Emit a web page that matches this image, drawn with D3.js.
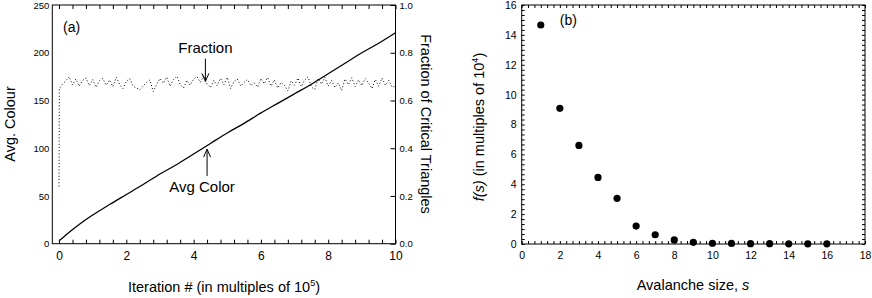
<!DOCTYPE html>
<html>
<head>
<meta charset="utf-8">
<script src="https://cdn.jsdelivr.net/npm/d3@7"></script>
<style>
  body { margin: 0; background: #fff; }
  svg { font-family: "Liberation Sans", Arial, sans-serif; }
  .domain { display: none; }
</style>
</head>
<body>
<svg id="chart" width="872" height="298"></svg>
<script>
// panel (a): average colour (left axis) and fraction of critical triangles (right axis)
var colorIter = [0, 0.25, 0.5, 0.75, 1, 1.5, 2, 2.5, 3, 3.5, 4, 4.5, 5, 5.5, 6, 6.5, 7, 7.5, 8, 8.5, 9, 9.5, 10];
var colorVal  = [3, 10.5, 17.5, 24, 30, 41, 51.5, 62, 73, 83, 94, 105, 116, 126, 137, 147, 157, 167, 178, 189, 200, 210, 221];

// fraction sampled every 0.1 (after the initial jump at 0)
var fracVal = [0.24, 0.65,
  0.668, 0.682, 0.700, 0.665, 0.690, 0.660, 0.684, 0.694, 0.662, 0.688,
  0.655, 0.683, 0.692, 0.664, 0.686, 0.658, 0.697, 0.668, 0.650, 0.680,
  0.692, 0.661, 0.652, 0.645, 0.660, 0.676, 0.686, 0.637, 0.668, 0.692,
  0.672, 0.698, 0.660, 0.688, 0.702, 0.668, 0.652, 0.684, 0.664, 0.690,
  0.700, 0.676, 0.705, 0.668, 0.654, 0.684, 0.662, 0.693, 0.666, 0.697,
  0.650, 0.680, 0.690, 0.660, 0.676, 0.688, 0.662, 0.674, 0.656, 0.692,
  0.670, 0.696, 0.660, 0.686, 0.652, 0.676, 0.664, 0.640, 0.682, 0.664,
  0.694, 0.658, 0.686, 0.699, 0.656, 0.646, 0.692, 0.668, 0.697, 0.660,
  0.684, 0.654, 0.674, 0.642, 0.690, 0.666, 0.695, 0.658, 0.686, 0.662,
  0.692, 0.674, 0.650, 0.688, 0.660, 0.694, 0.664, 0.684, 0.656, 0.660];
var fracIter = [0, 0.01].concat(d3.range(1, 101).map(i => i / 10));

// panel (b): avalanche size distribution
var sizes = [1, 2, 3, 4, 5, 6, 7, 8, 9, 10, 11, 12, 13, 14, 15, 16];
var freq  = [14.66, 9.08, 6.6, 4.46, 3.06, 1.2, 0.62, 0.27, 0.11, 0.05, 0.04, 0.02, 0.02, 0.01, 0.01, 0.01];

var svg = d3.select("#chart");

/* ---------- panel (a) ---------- */
var xA = d3.scaleLinear().domain([-0.2, 10]).range([52.3, 395.5]);
var yA = d3.scaleLinear().domain([0, 250]).range([243.7, 5]);
var yF = d3.scaleLinear().domain([0, 1]).range([243.7, 5]);

var isMajor = d => Math.abs(d / 2 - Math.round(d / 2)) < 1e-6;
var ticksA = d3.range(0, 10.001, 0.4);

svg.append("g")
  .attr("transform", "translate(0," + yA(0) + ")")
  .call(d3.axisBottom(xA).tickValues(ticksA).tickSizeInner(-4).tickSizeOuter(0).tickPadding(8)
    .tickFormat(d => isMajor(d) ? d3.format("d")(Math.round(d)) : ""))
  .call(g => g.selectAll("text").attr("font-size", 12).attr("fill", "#000"));

svg.append("g")
  .attr("transform", "translate(0," + yA(250) + ")")
  .call(d3.axisTop(xA).tickValues(ticksA).tickSizeInner(-4).tickSizeOuter(0).tickFormat(""));

svg.append("g")
  .attr("transform", "translate(" + xA(-0.2) + ",0)")
  .call(d3.axisLeft(yA).tickValues(d3.range(0, 251, 50)).tickSize(0).tickPadding(3))
  .call(g => g.selectAll("text").attr("font-size", 9.5).attr("fill", "#000"));

svg.append("g")
  .attr("transform", "translate(" + xA(10) + ",0)")
  .call(d3.axisRight(yF).tickValues(d3.range(0, 1.01, 0.2)).tickSizeInner(-5).tickSizeOuter(0).tickPadding(4)
    .tickFormat(d3.format(".1f")))
  .call(g => g.selectAll("text").attr("font-size", 9.5).attr("fill", "#000"));

svg.append("rect")
  .attr("x", xA(-0.2)).attr("y", yA(250))
  .attr("width", xA(10) - xA(-0.2)).attr("height", yA(0) - yA(250))
  .attr("fill", "none").attr("stroke", "#000").attr("stroke-width", 1);

svg.append("path")
  .datum(d3.zip(fracIter, fracVal))
  .attr("fill", "none").attr("stroke", "#000").attr("stroke-width", 1)
  .attr("stroke-dasharray", "1,2.2")
  .attr("d", d3.line().x(d => xA(d[0])).y(d => yF(d[1])));

svg.append("path")
  .datum(d3.zip(colorIter, colorVal))
  .attr("fill", "none").attr("stroke", "#000").attr("stroke-width", 1.3)
  .attr("d", d3.line().curve(d3.curveMonotoneX).x(d => xA(d[0])).y(d => yA(d[1])));

// annotations
function arrow(x, y0, y1) {
  var dir = y1 > y0 ? -1 : 1;
  svg.append("line").attr("x1", x).attr("x2", x).attr("y1", y0).attr("y2", y1)
    .attr("stroke", "#000").attr("stroke-width", 1);
  svg.append("path")
    .attr("d", "M" + (x - 3.5) + "," + (y1 + dir * 8) + "L" + x + "," + y1 + "L" + (x + 3.5) + "," + (y1 + dir * 8))
    .attr("fill", "none").attr("stroke", "#000").attr("stroke-width", 1);
}
svg.append("text").attr("x", xA(0.12)).attr("y", yA(222)).attr("font-size", 14).text("(a)");
svg.append("text").attr("x", xA(4.35)).attr("y", yF(0.799)).attr("font-size", 15)
  .attr("text-anchor", "middle").text("Fraction");
arrow(xA(4.35), yF(0.775), yF(0.68));
svg.append("text").attr("x", xA(4.25)).attr("y", yA(54.5)).attr("font-size", 15)
  .attr("text-anchor", "middle").text("Avg Color");
arrow(xA(4.4), yA(71), yA(99));

// axis titles
svg.append("text")
  .attr("transform", "translate(10," + 124 + ") rotate(-90)")
  .attr("text-anchor", "middle").attr("dy", "0.35em").attr("font-size", 14.5)
  .text("Avg. Colour");
svg.append("text")
  .attr("transform", "translate(426," + 124 + ") rotate(90)")
  .attr("text-anchor", "middle").attr("dy", "0.35em").attr("font-size", 14.5)
  .text("Fraction of Critical Triangles");
var tA = svg.append("text").attr("x", 224).attr("y", 291.5)
  .attr("text-anchor", "middle").attr("font-size", 14.5);
tA.append("tspan").text("Iteration # (in multiples of 10");
tA.append("tspan").attr("font-size", 9).attr("dy", -6).text("5");
tA.append("tspan").attr("dy", 6).text(")");

/* ---------- panel (b) ---------- */
var xB = d3.scaleLinear().domain([0, 18]).range([521.7, 865]);
var yB = d3.scaleLinear().domain([0, 16]).range([244, 5]);
var isMajB = d => Math.abs(d / 2 - Math.round(d / 2)) < 1e-6;
var ticksBx = d3.range(0, 18.001, 1 / 3);
var ticksBy = d3.range(0, 16.001, 1 / 3);

svg.append("g")
  .attr("transform", "translate(0," + yB(0) + ")")
  .call(d3.axisBottom(xB).tickValues(ticksBx).tickSizeInner(-3).tickSizeOuter(0).tickPadding(8)
    .tickFormat(d => isMajB(d) ? d3.format("d")(Math.round(d)) : ""))
  .call(g => g.selectAll("text").attr("font-size", 10.5).attr("fill", "#000"));
svg.append("g")
  .attr("transform", "translate(0," + yB(16) + ")")
  .call(d3.axisTop(xB).tickValues(ticksBx).tickSizeInner(-3).tickSizeOuter(0).tickFormat(""));
svg.append("g")
  .attr("transform", "translate(" + xB(0) + ",0)")
  .call(d3.axisLeft(yB).tickValues(ticksBy).tickSizeInner(-3).tickSizeOuter(0).tickPadding(5)
    .tickFormat(d => isMajB(d) ? d3.format("d")(Math.round(d)) : ""))
  .call(g => g.selectAll("text").attr("font-size", 10.5).attr("fill", "#000"));
svg.append("g")
  .attr("transform", "translate(" + xB(18) + ",0)")
  .call(d3.axisRight(yB).tickValues(ticksBy).tickSizeInner(-3).tickSizeOuter(0).tickFormat(""));

svg.append("rect")
  .attr("x", xB(0)).attr("y", yB(16))
  .attr("width", xB(18) - xB(0)).attr("height", yB(0) - yB(16))
  .attr("fill", "none").attr("stroke", "#000").attr("stroke-width", 1);

svg.append("g").selectAll("circle")
  .data(d3.zip(sizes, freq))
  .enter()
  .append("circle")
  .attr("cx", d => xB(d[0]))
  .attr("cy", d => yB(d[1]))
  .attr("r", 3.6)
  .attr("fill", "#000");

svg.append("text").attr("x", xB(2.0)).attr("y", yB(14.66)).attr("font-size", 14).text("(b)");

var tB = svg.append("text").attr("x", 693).attr("y", 290)
  .attr("text-anchor", "middle").attr("font-size", 14.5);
tB.append("tspan").text("Avalanche size, ");
tB.append("tspan").attr("font-style", "italic").text("s");

var tBy = svg.append("text")
  .attr("transform", "translate(479,127) rotate(-90)")
  .attr("text-anchor", "middle").attr("dy", "0.35em").attr("font-size", 14.5);
tBy.append("tspan").attr("font-style", "italic").text("f(s)");
tBy.append("tspan").text(" (in multiples of 10");
tBy.append("tspan").attr("font-size", 9).attr("dy", -6).text("4");
tBy.append("tspan").attr("dy", 6).text(")");
</script>
</body>
</html>
